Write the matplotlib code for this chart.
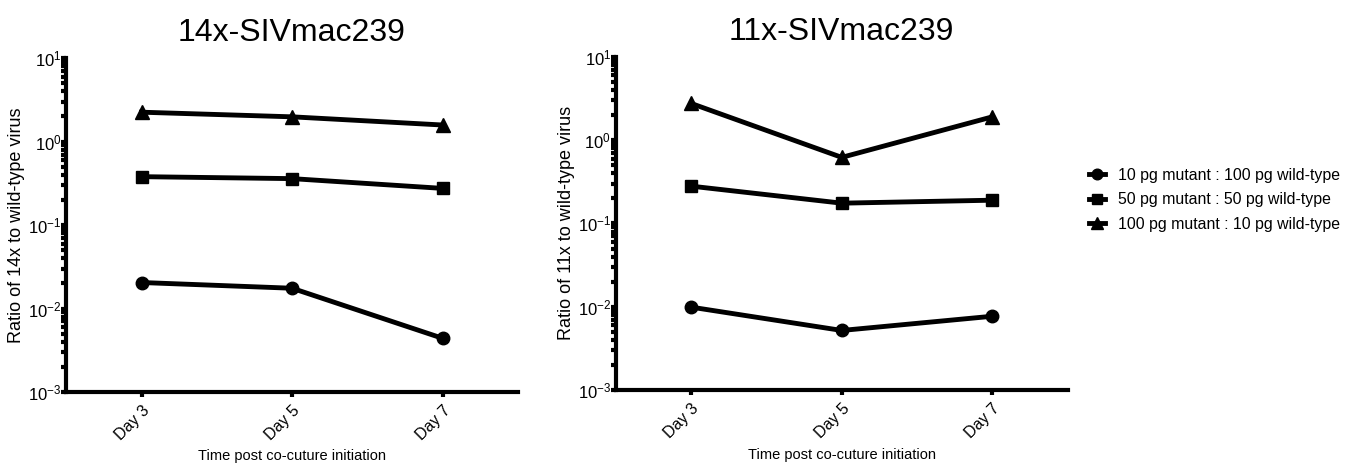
import matplotlib
matplotlib.use("Agg")
import matplotlib.pyplot as plt
from matplotlib.ticker import LogLocator, NullFormatter

plt.rcParams['font.family'] = ['Liberation Sans', 'DejaVu Sans']
plt.rcParams['mathtext.fontset'] = 'custom'
plt.rcParams['mathtext.rm'] = 'Liberation Sans'
plt.rcParams['mathtext.it'] = 'Liberation Sans'
plt.rcParams['mathtext.bf'] = 'Liberation Sans'
plt.rcParams['axes.unicode_minus'] = False

# --- dane ---
days = [3, 5, 7]
day_labels = ['Day 3', 'Day 5', 'Day 7']
series_names = ['10 pg mutant : 100 pg wild-type',
                '50 pg mutant : 50 pg wild-type',
                '100 pg mutant : 10 pg wild-type']

ratio_14x_10_100 = [0.0205, 0.0175, 0.0044]
ratio_14x_50_50 = [0.38, 0.36, 0.275]
ratio_14x_100_10 = [2.25, 1.98, 1.58]

ratio_11x_10_100 = [0.0099, 0.0052, 0.0077]
ratio_11x_50_50 = [0.28, 0.175, 0.19]
ratio_11x_100_10 = [2.75, 0.62, 1.9]

markers = ['o', 's', '^']
msizes = [9, 8.5, 9.5]


def draw_panel(ax, data, title, ylabel):
    for vals, m, ms, name in zip(data, markers, msizes, series_names):
        ax.plot(days, vals, color='black', lw=3.5, marker=m, markersize=ms,
                label=name, clip_on=False)
    ax.set_yscale('log')
    ax.set_ylim(1e-3, 1e1)
    ax.set_xlim(2, 8)
    ax.set_xticks(days)
    ax.set_xticklabels(day_labels, rotation=45, ha='right', rotation_mode='anchor', fontsize=11.5)
    ax.yaxis.set_major_locator(LogLocator(base=10, numticks=10))
    ax.yaxis.set_minor_locator(LogLocator(base=10, subs=range(2, 10), numticks=10))
    ax.yaxis.set_minor_formatter(NullFormatter())
    ax.tick_params(axis='y', which='major', labelsize=12, length=3.5, width=3, pad=0)
    ax.tick_params(axis='y', which='minor', length=3.5, width=3)
    ax.tick_params(axis='x', length=3.5, width=3, pad=4)
    for s in ['top', 'right']:
        ax.spines[s].set_visible(False)
    for s in ['left', 'bottom']:
        ax.spines[s].set_linewidth(3)
    ax.set_title(title, fontsize=23, pad=12)
    ax.set_ylabel(ylabel, fontsize=13, labelpad=2)
    ax.set_xlabel('Time post co-cuture initiation', fontsize=10.5, labelpad=5)


fig = plt.figure(figsize=(13.52, 4.65), dpi=100)
ax1 = fig.add_axes([0.049, 0.157, 0.334, 0.718])
ax2 = fig.add_axes([0.4556, 0.161, 0.334, 0.717])

draw_panel(ax1, [ratio_14x_10_100, ratio_14x_50_50, ratio_14x_100_10],
           '14x-SIVmac239', 'Ratio of 14x to wild-type virus')
draw_panel(ax2, [ratio_11x_10_100, ratio_11x_50_50, ratio_11x_100_10],
           '11x-SIVmac239', 'Ratio of 11x to wild-type virus')

handles, labels = ax2.get_legend_handles_labels()
fig.legend(handles, labels, loc='upper left', bbox_to_anchor=(0.795, 0.67),
           frameon=False, fontsize=11.4, handlelength=1.0, handletextpad=0.8,
           labelspacing=0.6, markerscale=0.85)

fig.savefig('out.png', dpi=100)
